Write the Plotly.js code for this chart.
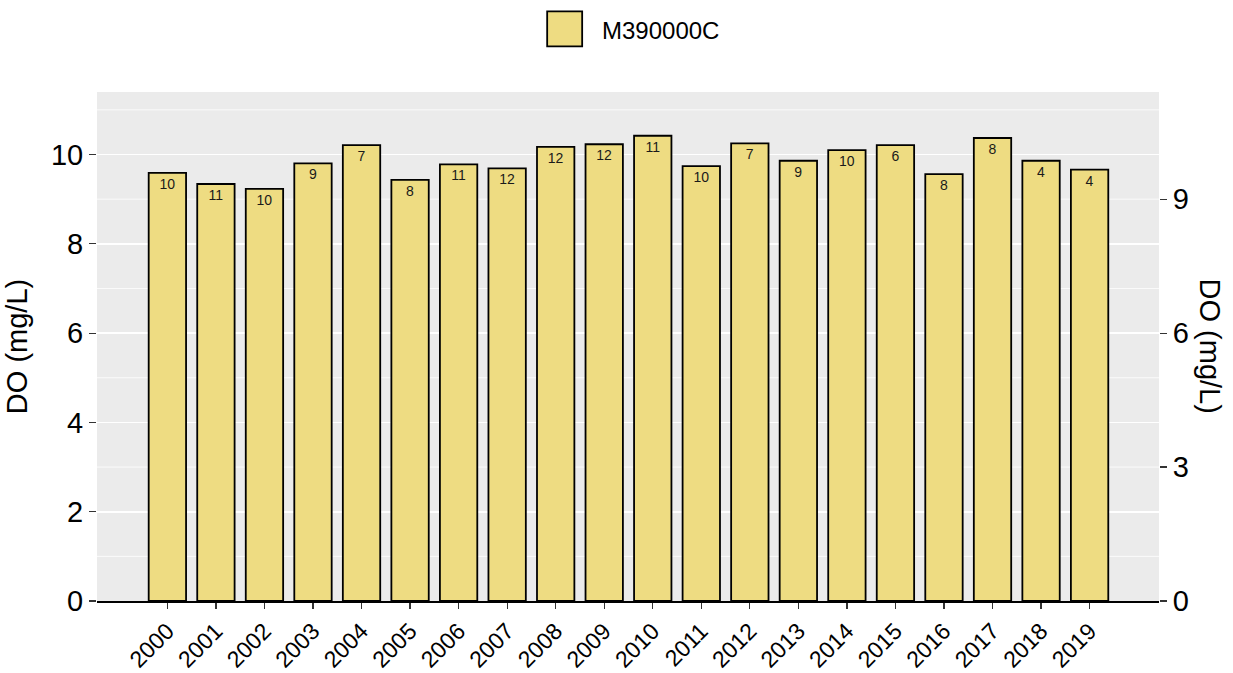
<!DOCTYPE html>
<html>
<head>
<meta charset="utf-8">
<script src="https://cdn.plot.ly/plotly-3.0.1.min.js"></script>
<style>html,body{margin:0;padding:0;background:#fff;}#chart{width:1233px;height:673px;}</style>
</head>
<body>
<div id="chart"></div>
<script>
var years = ["2000","2001","2002","2003","2004","2005","2006","2007","2008","2009","2010","2011","2012","2013","2014","2015","2016","2017","2018","2019"];
var doValues = [9.59,9.34,9.23,9.80,10.21,9.43,9.78,9.69,10.17,10.23,10.42,9.74,10.25,9.86,10.10,10.21,9.56,10.37,9.86,9.66];
var counts = [10,11,10,9,7,8,11,12,12,12,11,10,7,9,10,6,8,8,4,4];
var seriesName = "M390000C";
var leftTicks = [0,2,4,6,8,10];
var rightTicks = [0,3,6,9];

var FONT = "Liberation Sans, Arial, sans-serif";
var yMax = 11.4;

var trace = {
  type: "bar",
  x: years,
  y: doValues,
  name: seriesName,
  text: counts.map(String),
  textposition: "inside",
  insidetextanchor: "end",
  textangle: 0,
  constraintext: "none",
  textfont: {family: FONT, size: 14, color: "#1a1a1a"},
  marker: {color: "#EEDC82", line: {color: "#000000", width: 1.8}},
  width: 0.77,
  showlegend: false,
  hoverinfo: "x+y"
};

var minorGrid = [];
for (var v = 1; v <= 11; v += 2) minorGrid.push(v);

var shapes = minorGrid.map(function(g){
  return {type:"line", xref:"paper", yref:"y", x0:0, x1:1, y0:g, y1:g,
          line:{color:"#ffffff", width:0.8}, layer:"below"};
});
// legend swatch
shapes.push({type:"rect", xref:"paper", yref:"paper",
  x0:(547-96.7)/1062.3, x1:(582-96.7)/1062.3,
  y0:1+(91.7-46)/509, y1:1+(91.7-11)/509,
  fillcolor:"#EEDC82", line:{color:"#000", width:1.8}});

var layout = {
  width: 1233, height: 673,
  margin: {l: 96.7, r: 74, t: 91.7, b: 72.3, autoexpand: false},
  paper_bgcolor: "#ffffff",
  plot_bgcolor: "#EBEBEB",
  font: {family: FONT, color: "#000"},
  bargap: 0.23,
  xaxis: {
    type: "category",
    range: [-1.45, 20.43],
    tickangle: -45,
    ticks: "outside", ticklen: 6, tickwidth: 1.2, tickcolor: "#333",
    tickfont: {family: FONT, size: 23, color: "#000"},
    showgrid: false,
    showline: true, linecolor: "#000", linewidth: 1.6,
    zeroline: false,
    automargin: false
  },
  yaxis: {
    range: [0, yMax],
    tickvals: leftTicks,
    ticktext: leftTicks.map(String),
    ticks: "outside", ticklen: 7, tickwidth: 1.2, tickcolor: "#333",
    tickfont: {family: FONT, size: 29, color: "#000"},
    showgrid: true, gridcolor: "#ffffff", gridwidth: 1.6,
    zeroline: false, showline: false,
    title: {text: "DO (mg/L)", font: {family: FONT, size: 29, color: "#000"}, standoff: 14},
    automargin: false
  },
  yaxis2: {
    overlaying: "y",
    side: "right",
    range: [0, yMax],
    tickvals: rightTicks,
    ticktext: rightTicks.map(String),
    ticks: "outside", ticklen: 7, tickwidth: 1.2, tickcolor: "#333",
    tickfont: {family: FONT, size: 29, color: "#000"},
    showgrid: false, zeroline: false, showline: false,
    automargin: false
  },
  shapes: shapes,
  annotations: [
    {text: "DO (mg/L)", xref: "paper", yref: "paper", x: 1 + (1211-1159)/1062.3, y: 0.5,
     xanchor: "center", yanchor: "middle", textangle: 90, showarrow: false,
     font: {family: FONT, size: 29, color: "#000"}},
    {text: seriesName, xref: "paper", yref: "paper", x: (600-96.7)/1062.3, y: 1+(91.7-30)/509,
     xanchor: "left", yanchor: "middle", showarrow: false,
     font: {family: FONT, size: 24, color: "#000"}}
  ]
};

// invisible trace to activate right axis
var ghost = {type: "scatter", x: [years[0]], y: [0], yaxis: "y2", mode: "markers",
  marker: {opacity: 0}, showlegend: false, hoverinfo: "skip"};

Plotly.newPlot("chart", [trace, ghost], layout, {staticPlot: true, displayModeBar: false});
</script>
</body>
</html>
